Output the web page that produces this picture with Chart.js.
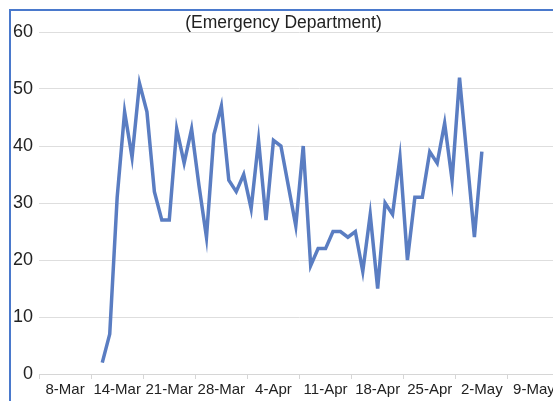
<!DOCTYPE html>
<html>
<head>
<meta charset="utf-8">
<script src="https://cdn.jsdelivr.net/npm/chart.js@4.4.1/dist/chart.umd.min.js"></script>
<style>
  html, body { margin: 0; padding: 0; background: #fff; overflow: hidden; width: 553px; height: 401px; }
  #wrap { position: absolute; left: 0; top: 0; width: 600px; height: 401px; }
  #frame { position: absolute; left: 9px; top: 9px; right: 0; bottom: 0; border-left: 2px solid #4a79cc; border-top: 2px solid #4a79cc; pointer-events: none; }
</style>
</head>
<body>
<div id="wrap"><canvas id="myChart" width="600" height="401"></canvas></div>
<div id="frame"></div>
<script>
// weekly tick labels along the bottom axis (each one covers 7 days)
const tickLabels = ["8-Mar", "14-Mar", "21-Mar", "28-Mar", "4-Apr", "11-Apr", "18-Apr", "25-Apr", "2-May", "9-May"];

// daily counts, first reading is day 8 counted from the start of the axis
const firstDay = 8;
const values = [
  2, 7, 31, 46, 38, 51, 46, 32, 27, 27,
  43, 37, 43, 33, 24, 42, 47, 34, 32, 35,
  29, 41, 27, 41, 40, 33, 26, 40, 19, 22,
  22, 25, 25, 24, 25, 18, 28, 15, 30, 28,
  38, 20, 31, 31, 39, 37, 44, 34, 52, 38,
  24, 39
];

const yTicks = [0, 10, 20, 30, 40, 50, 60];

const points = values.map((v, i) => ({ x: firstDay + i + 0.5, y: v }));
const days = tickLabels.length * 7;
const font = "'Liberation Sans', Arial, sans-serif";

const ctx = document.getElementById("myChart");

const myChart = new Chart(ctx, {
  type: "line",
  data: {
    datasets: [
      {
        label: "Emergency Department",
        data: points,
        borderColor: "#5a7dc2",
        borderWidth: 3.5,
        pointRadius: 0,
        tension: 0,
        fill: false,
      },
    ],
  },
  options: {
    responsive: false,
    animation: false,
    layout: {
      padding: { left: 7, right: 40, top: 8, bottom: 0 },
    },
    plugins: {
      legend: { display: false },
      tooltip: { enabled: false },
      title: {
        display: true,
        text: "(Emergency Department)",
        color: "#222",
        font: { family: font, size: 17.5, weight: "normal", lineHeight: 1 },
        padding: { top: 6.5, bottom: 0 },
      },
    },
    scales: {
      x: {
        type: "linear",
        min: 0,
        max: days,
        afterBuildTicks: (scale) => {
          const t = [];
          for (let v = 0; v <= days; v += 3.5) t.push({ value: v });
          scale.ticks = t;
        },
        grid: {
          drawOnChartArea: false,
          tickLength: 5,
          tickColor: (c) => (c.tick && c.tick.value % 7 === 0 ? "#d6d6d6" : "rgba(0,0,0,0)"),
        },
        border: { display: true, color: "#d6d6d6" },
        ticks: {
          autoSkip: false,
          maxRotation: 0,
          minRotation: 0,
          padding: 2,
          color: "#222",
          font: { family: font, size: 15 },
          callback: (v) => (v % 7 === 3.5 ? tickLabels[Math.floor(v / 7)] : ""),
        },
      },
      y: {
        min: 0,
        max: 60,
        afterBuildTicks: (scale) => {
          scale.ticks = yTicks.map((v) => ({ value: v }));
        },
        grid: { color: "#dedede", drawTicks: false },
        border: { display: false },
        ticks: {
          padding: 6,
          color: "#222",
          font: { family: font, size: 18 },
        },
      },
    },
  },
});
</script>
</body>
</html>
